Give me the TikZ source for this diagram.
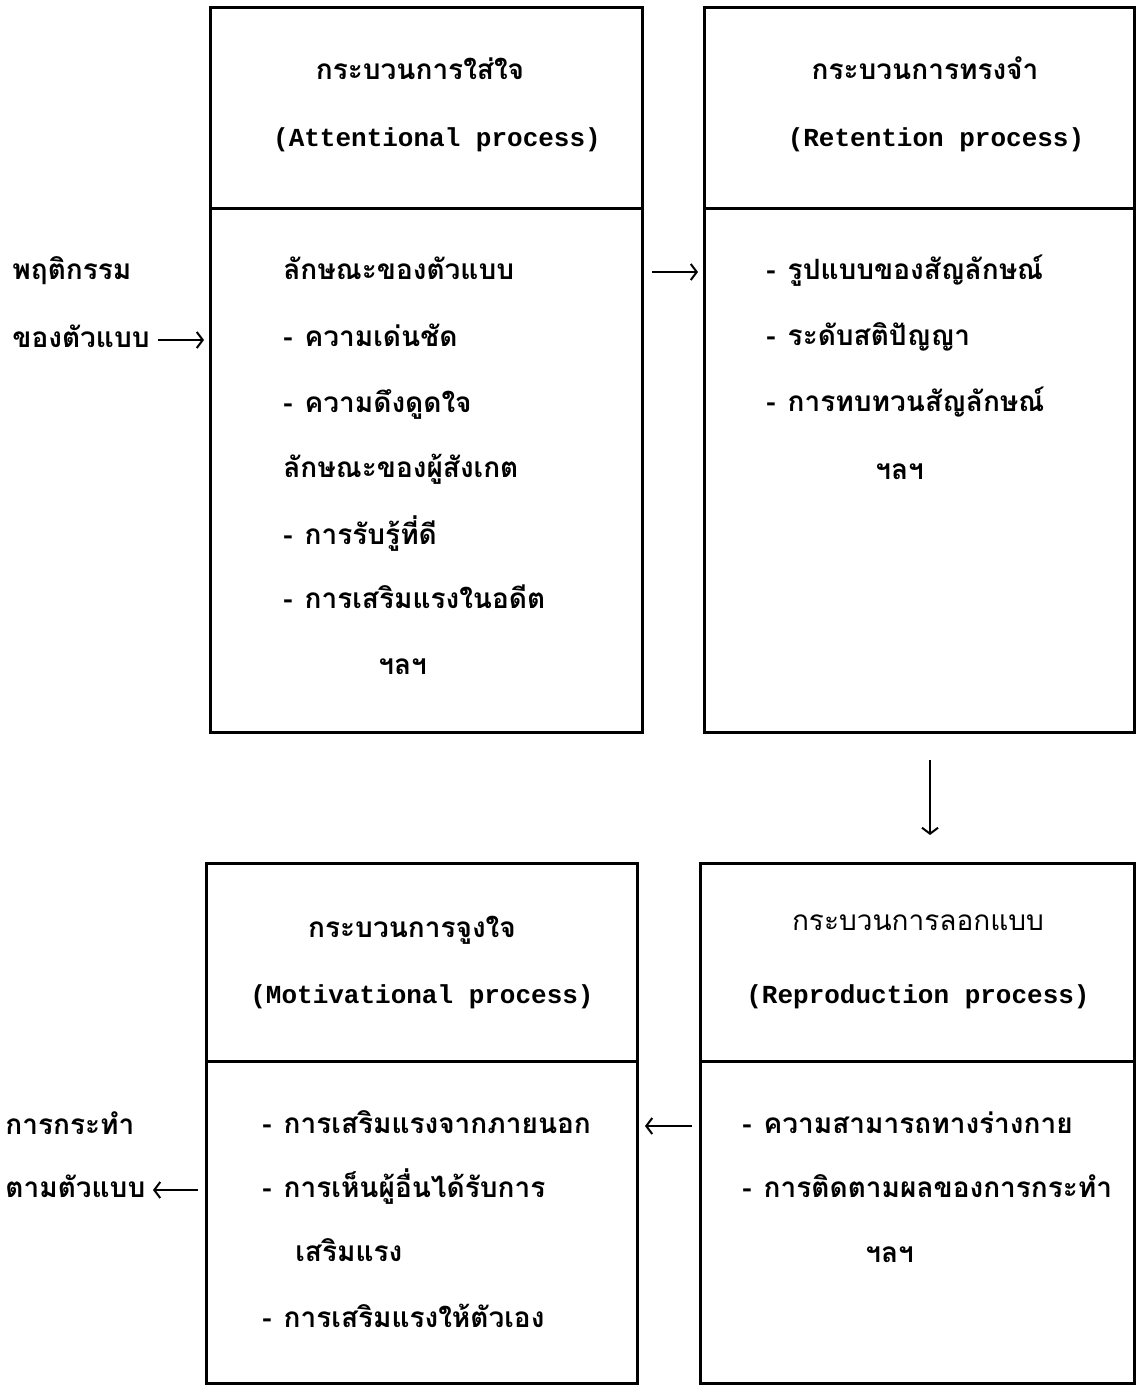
\documentclass[tikz,border=0pt]{standalone}
\usepackage{fontspec}
\newfontfamily\thaifont[Script=Thai]{Loma}
\setmonofont{Liberation Mono}
\usetikzlibrary{arrows.meta}
\newcommand{\dsh}{-\hspace{6pt}}
\begin{document}
\begin{tikzpicture}[x=0.5pt,y=-0.5pt,
  box/.style={draw, line width=1.5pt, rectangle, anchor=north west, inner sep=0pt, outer sep=0pt},
  th/.style={font=\thaifont\bfseries\fontsize{14}{16}\selectfont, anchor=west, inner sep=0pt, text height=10pt, text depth=3pt},
  thl/.style={font=\thaifont\fontsize{14}{16}\selectfont, anchor=center, inner sep=0pt, text height=10pt, text depth=3pt},
  ttl/.style={th, anchor=center},
  en/.style={font=\ttfamily\bfseries\fontsize{13}{15}\selectfont, anchor=center, inner sep=0pt, text height=10pt, text depth=3pt},
  arr/.style={-{Straight Barb[length=3pt,width=8pt]}, line width=1pt}]
\useasboundingbox (0,0) rectangle (1136,1386);

% boxes
\node[box, minimum width=216pt, minimum height=100pt] (b1top) at (210,8) {};
\node[box, minimum width=216pt, minimum height=262pt] (b1bot) at (210,208) {};
\node[box, minimum width=215pt, minimum height=100pt] (b2top) at (704,8) {};
\node[box, minimum width=215pt, minimum height=262pt] (b2bot) at (704,208) {};
\node[box, minimum width=215.5pt, minimum height=99pt] (b3top) at (206,863) {};
\node[box, minimum width=215.5pt, minimum height=161pt] (b3bot) at (206,1061) {};
\node[box, minimum width=217pt, minimum height=99pt] (b4top) at (700,863) {};
\node[box, minimum width=217pt, minimum height=161pt] (b4bot) at (700,1061) {};

% box 1
\node[ttl] (t1h) at (420,73) {กระบวนการใส่ใจ};
\node[en]  (t1e) at (437,140) {(Attentional process)};
\node[th] (t1a) at (283,272) {ลักษณะของตัวแบบ};
\node[th] (t1b) at (283,339) {\dsh ความเด่นชัด};
\node[th] (t1c) at (283,405) {\dsh ความดึงดูดใจ};
\node[th] (t1d) at (283,470) {ลักษณะของผู้สังเกต};
\node[th] (t1e2) at (283,537) {\dsh การรับรู้ที่ดี};
\node[th] (t1f) at (283,601) {\dsh การเสริมแรงในอดีต};
\node[th] (t1g) at (378,667) {ฯลฯ};

% box 2
\node[ttl] (t2h) at (925,73) {กระบวนการทรงจำ};
\node[en]  (t2e) at (936,140) {(Retention process)};
\node[th] (t2a) at (766,272) {\dsh รูปแบบของสัญลักษณ์};
\node[th] (t2b) at (766,338) {\dsh ระดับสติปัญญา};
\node[th] (t2c) at (766,404) {\dsh การทบทวนสัญลักษณ์};
\node[th] (t2d) at (875,472) {ฯลฯ};

% box 3
\node[ttl] (t3h) at (412,930) {กระบวนการจูงใจ};
\node[en]  (t3e) at (422,996) {(Motivational process)};
\node[th] (t3a) at (262,1126) {\dsh การเสริมแรงจากภายนอก};
\node[th] (t3b) at (262,1190) {\dsh การเห็นผู้อื่นได้รับการ};
\node[th] (t3c) at (295,1254) {เสริมแรง};
\node[th] (t3d) at (262,1320) {\dsh การเสริมแรงให้ตัวเอง};

% box 4
\node[thl] (t4h) at (918,923) {กระบวนการลอกแบบ};
\node[en]  (t4e) at (918,996) {(Reproduction process)};
\node[th] (t4a) at (742,1126) {\dsh ความสามารถทางร่างกาย};
\node[th] (t4b) at (742,1190) {\dsh การติดตามผลของการกระทำ};
\node[th] (t4c) at (865,1255) {ฯลฯ};

% outside labels
\node[th] (l1) at (12,272) {พฤติกรรม};
\node[th] (l2) at (12,340) {ของตัวแบบ};
\node[th] (l3) at (5,1127) {การกระทำ};
\node[th] (l4) at (5,1190) {ตามตัวแบบ};
\coordinate (a1s) at (158,340);
\coordinate (a4e) at (153,1190);

% connectors
\draw[arr, shorten >=3pt] (a1s) -- (b1bot.west |- a1s);
\draw[arr, shorten <=5pt, shorten >=3pt] (b1bot.east |- t1a.west) -- (b2bot.west |- t1a.west);
\draw[arr, shorten <=14pt, shorten >=14pt] ([xshift=5.5pt]b2bot.south) -- ([xshift=6.5pt]b4top.north);
\draw[arr, shorten <=4pt, shorten >=4pt] (b4bot.west |- t4a.west) -- (b3bot.east |- t4a.west);
\draw[arr, shorten <=4pt] (b3bot.west |- a4e) -- (a4e);
\end{tikzpicture}
\end{document}
